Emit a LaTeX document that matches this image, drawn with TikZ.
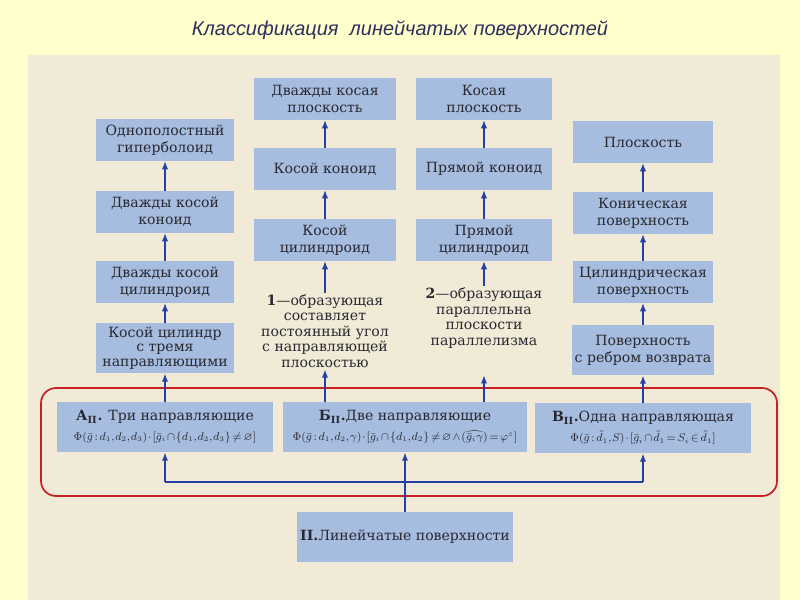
\documentclass[tikz,border=0pt]{standalone}
\usepackage{amsmath, amssymb}
\usepackage[no-math]{fontspec}
\setmainfont{DejaVu Serif}
\newfontfamily\titlefont{Liberation Sans}
\usepackage{tikz}
\usetikzlibrary{arrows.meta}

\definecolor{slidebg}{RGB}{255,255,204}
\definecolor{paper}{RGB}{240,234,214}
\definecolor{boxblue}{RGB}{167,189,224}
\definecolor{inkblue}{RGB}{38,62,165}
\definecolor{framered}{RGB}{200,32,32}
\definecolor{titleink}{RGB}{48,48,96}
\definecolor{printink}{RGB}{40,40,48}

% compact formula line inside the middle boxes
\newcommand{\rulerow}[1]{{\fontsize{7.6}{10}\selectfont
    \thinmuskip=1mu \medmuskip=1.5mu \thickmuskip=2.5mu $#1$}}

\begin{document}
\begin{tikzpicture}[
    >={Latex[length=6pt,width=4.5pt]},
    x=0.025cm, y=-0.025cm, % 1 unit = 1 px of the slide, y downwards
    cell/.style={fill=boxblue, text=printink, align=center, inner sep=2pt,
        minimum height=1.03cm, font=\fontsize{10}{12}\selectfont},
    cellhi/.style={cell, minimum height=1.25cm, font=\fontsize{10}{10.5}\selectfont},
    remark/.style={text=printink, align=center, inner sep=1pt,
        font=\fontsize{10}{11}\selectfont},
    feed/.style={->, inkblue, line width=1.5pt},
    wire/.style={inkblue, line width=1.3pt}
]

    % === DEFINITIONS & COORDINATES ===
    % Column centres (x)
    \def\colA{165}
    \def\colB{325}
    \def\colC{484}
    \def\colD{643}
    % Column widths
    \def\wA{3.45cm}
    \def\wB{3.55cm}
    \def\wC{3.4cm}
    \def\wD{3.475cm}

    \useasboundingbox (0,0) rectangle (800,600);

    % === 1. SLIDE & SCANNED PAGE ===
    \fill[slidebg] (0,0) rectangle (800,600);
    \fill[paper] (28,55) rectangle (780,600);

    \node[font=\titlefont\itshape\fontsize{14.2}{17}\selectfont, text=titleink] (title)
        at (400,30) {Классификация\ \ линейчатых поверхностей};

    % === 2. COLUMN 1: three directrices ===
    \node[cell, minimum width=\wA] (hyp) at (\colA,140) {Однополостный\\гиперболоид};
    \node[cell, minimum width=\wA] (dkon) at (\colA,212) {Дважды косой\\коноид};
    \node[cell, minimum width=\wA] (dcyl) at (\colA,282) {Дважды косой\\цилиндроид};
    \node[cellhi, minimum width=\wA] (kcyl3) at (\colA,348) {Косой цилиндр\\с тремя\\направляющими};

    % === 3. COLUMNS 2 & 3: two directrices ===
    \node[cell, minimum width=\wB] (dpl) at (\colB,99) {Дважды косая\\плоскость};
    \node[cell, minimum width=\wB] (kkon) at (\colB,169) {Косой коноид};
    \node[cell, minimum width=\wB] (kcyl) at (\colB,240) {Косой\\цилиндроид};
    \node[remark] (note1) at (\colB,331)
        {\textbf{1}—образующая\\составляет\\постоянный угол\\с направляющей\\плоскостью};

    \node[cell, minimum width=\wC] (kpl) at (\colC,99) {Косая\\плоскость};
    \node[cell, minimum width=\wC] (pkon) at (\colC,169) {Прямой коноид};
    \node[cell, minimum width=\wC] (pcyl) at (\colC,240) {Прямой\\цилиндроид};
    \node[remark] (note2) at (\colC,318)
        {\textbf{2}—образующая\\параллельна\\плоскости\\параллелизма};
    \coordinate (n2end) at (\colC,375); % arrow stops short of the note

    % === 4. COLUMN 4: one directrix ===
    \node[cell, minimum width=\wD] (plos) at (\colD,142) {Плоскость};
    \node[cell, minimum width=\wD] (konic) at (\colD,213) {Коническая\\поверхность};
    \node[cell, minimum width=\wD] (cylin) at (\colD,282) {Цилиндрическая\\поверхность};
    \node[cellhi, minimum width=\wD, font=\fontsize{10}{12}\selectfont] (rebro) at (\colD,350)
        {Поверхность\\с ребром возврата};

    % === 5. MIDDLE ROW (framed in red) ===
    \draw[framered, line width=1.2pt, rounded corners=0.375cm] (41,388) rectangle (777,496);

    \node[cellhi, minimum width=5.375cm, font=\fontsize{10}{14}\selectfont] (Athree) at (\colA,427)
        {\textbf{А\textsubscript{II}.} Три направляющие\\
         \rulerow{\Phi(\bar g:d_1,d_2,d_3)\cdot[\bar g_i\cap\{d_1,d_2,d_3\}\neq\varnothing]}};
    \node[cellhi, minimum width=6.075cm, font=\fontsize{10}{14}\selectfont] (Btwo) at (405,427)
        {\textbf{Б\textsubscript{II}.}Две направляющие\\
         \rulerow{\Phi(\bar g:d_1,d_2,\gamma)\cdot[\bar g_i\cap\{d_1,d_2\}\neq\varnothing\wedge(\widehat{\bar g_i\gamma})=\varphi^\circ]}};
    \node[cellhi, minimum width=5.375cm, font=\fontsize{10}{14}\selectfont] (Vone) at (\colD,428)
        {\textbf{В\textsubscript{II}.}Одна направляющая\\
         \rulerow{\Phi(\bar g:\tilde d_1,S)\cdot[\bar g_i\cap\tilde d_1=S_i\in\tilde d_1]}};

    % === 6. ROOT ===
    \node[cellhi, minimum width=5.35cm, font=\fontsize{10}{12}\selectfont] (ruled) at (405,537)
        {\textbf{II.}Линейчатые поверхности};
    \coordinate (hub) at (405,482);

    % === 7. CONNECTORS ===
    \draw[wire] (ruled.north) -- (hub);
    \draw[wire] (Athree.south |- hub) -- (Vone.south |- hub);
    \draw[feed] (Athree.south |- hub) -- (Athree.south);
    \draw[feed] (hub) -- (Btwo.south);
    \draw[feed] (Vone.south |- hub) -- (Vone.south);

    \draw[feed] (Athree.north) -- (kcyl3.south);
    \draw[feed] (Btwo.north -| note1) -- (note1.south);
    \draw[feed] (Btwo.north -| n2end) -- (n2end);
    \draw[feed] (Vone.north) -- (rebro.south);

    % chains up each column
    \draw[feed] (kcyl3) -- (dcyl);
    \draw[feed] (dcyl) -- (dkon);
    \draw[feed] (dkon) -- (hyp);
    \draw[feed] (note1) -- (kcyl);
    \draw[feed] (kcyl) -- (kkon);
    \draw[feed] (kkon) -- (dpl);
    \draw[feed] (note2) -- (pcyl);
    \draw[feed] (pcyl) -- (pkon);
    \draw[feed] (pkon) -- (kpl);
    \draw[feed] (rebro) -- (cylin);
    \draw[feed] (cylin) -- (konic);
    \draw[feed] (konic) -- (plos);

\end{tikzpicture}
\end{document}
